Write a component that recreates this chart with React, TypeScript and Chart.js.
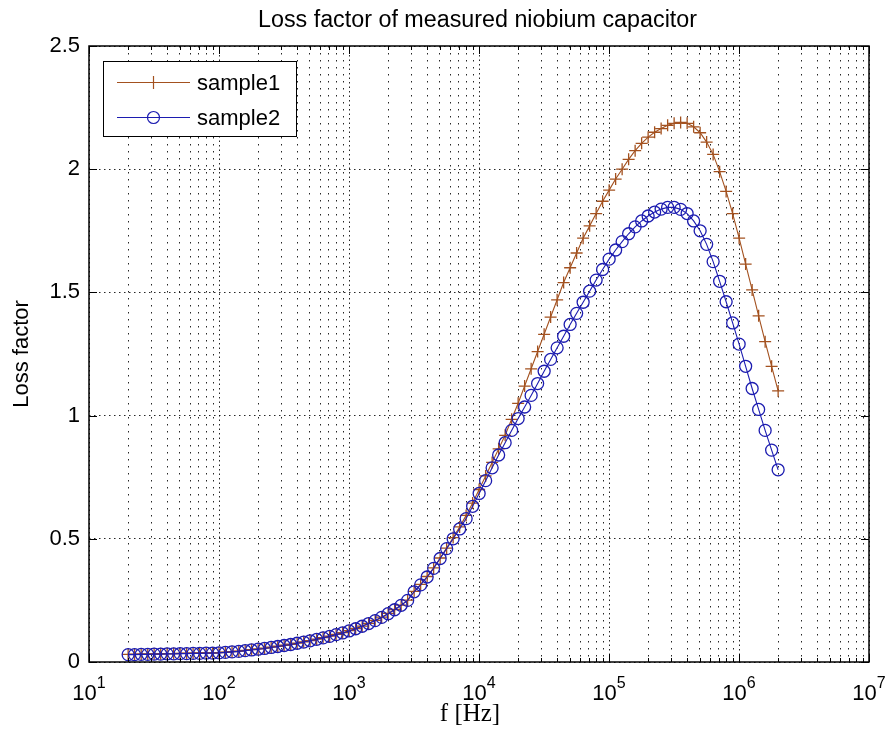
import React, { useEffect, useRef } from 'react';
import { Chart, registerables } from 'chart.js';

Chart.register(...registerables);

// ---------------- data ----------------
const TITLE = 'Loss factor of measured niobium capacitor';
const X_LABEL = 'f [Hz]';
const Y_LABEL = 'Loss factor';
const SERIES_NAMES = ['sample1', 'sample2'];

// measurement frequencies (Hz), 20 per decade from 20 Hz to 2 MHz
const FREQ_HZ = [
  20, 22.4, 25.2, 28.3, 31.7, 35.6, 39.9, 44.8, 50.2, 56.4,
  63.2, 71.0, 79.6, 89.3, 100, 112, 126, 142, 159, 178,
  200, 224, 252, 283, 317, 356, 399, 448, 502, 564,
  632, 710, 796, 893, 1002, 1125, 1262, 1416, 1589, 1783,
  2000, 2244, 2518, 2825, 3170, 3557, 3991, 4477, 5024, 5637,
  6325, 7096, 7962, 8934, 10024, 11247, 12619, 14159, 15887, 17825,
  20000, 22440, 25179, 28251, 31698, 35566, 39905, 44774, 50238, 56368,
  63246, 70963, 79621, 89337, 100237, 112468, 126191, 141589, 158866, 178250,
  200000, 224404, 251785, 282508, 316979, 355656, 399052, 447744, 502377, 563677,
  632456, 709627, 796214, 893367, 1002374, 1124683, 1261915, 1415892, 1588656, 1782502,
  2000000,
];

const SAMPLE1 = [
  0.031, 0.031, 0.032, 0.032, 0.033, 0.033, 0.034, 0.034, 0.035, 0.035,
  0.036, 0.036, 0.037, 0.037, 0.038, 0.040, 0.042, 0.044, 0.047, 0.050,
  0.053, 0.056, 0.060, 0.064, 0.068, 0.072, 0.077, 0.082, 0.087, 0.093,
  0.099, 0.105, 0.112, 0.119, 0.127, 0.136, 0.146, 0.157, 0.169, 0.182,
  0.197, 0.213, 0.231, 0.251, 0.287, 0.315, 0.347, 0.382, 0.422, 0.462,
  0.505, 0.548, 0.595, 0.645, 0.700, 0.755, 0.810, 0.865, 0.920, 0.985,
  1.050, 1.120, 1.190, 1.260, 1.330, 1.400, 1.470, 1.540, 1.600, 1.660,
  1.720, 1.770, 1.820, 1.870, 1.915, 1.960, 2.000, 2.040, 2.075, 2.105,
  2.130, 2.150, 2.165, 2.178, 2.186, 2.190, 2.186, 2.172, 2.148, 2.110,
  2.060, 1.990, 1.910, 1.820, 1.720, 1.615, 1.510, 1.405, 1.300, 1.200,
  1.100,
];

const SAMPLE2 = [
  0.030, 0.030, 0.031, 0.031, 0.032, 0.032, 0.033, 0.033, 0.034, 0.034,
  0.035, 0.035, 0.036, 0.036, 0.037, 0.039, 0.041, 0.043, 0.046, 0.049,
  0.052, 0.055, 0.059, 0.063, 0.067, 0.071, 0.076, 0.081, 0.086, 0.092,
  0.098, 0.104, 0.111, 0.118, 0.126, 0.135, 0.145, 0.156, 0.168, 0.181,
  0.196, 0.212, 0.230, 0.250, 0.285, 0.313, 0.345, 0.380, 0.420, 0.460,
  0.500, 0.540, 0.582, 0.632, 0.684, 0.736, 0.788, 0.840, 0.890, 0.940,
  0.988, 1.035, 1.082, 1.130, 1.180, 1.228, 1.275, 1.322, 1.370, 1.415,
  1.460, 1.505, 1.550, 1.593, 1.635, 1.672, 1.706, 1.738, 1.766, 1.790,
  1.810, 1.826, 1.838, 1.845, 1.845, 1.837, 1.820, 1.790, 1.750, 1.695,
  1.625, 1.545, 1.462, 1.376, 1.290, 1.200, 1.110, 1.025, 0.940, 0.860,
  0.780,
];

const X_MIN = 10;
const X_MAX = 1e7;
const X_DECADE_EXPONENTS = [1, 2, 3, 4, 5, 6, 7];
const X_MINOR_MULTIPLIERS = [1, 2, 3, 4, 5, 6, 7, 8, 9];
const Y_MIN = 0;
const Y_MAX = 2.5;
const Y_STEP = 0.5;

// ---------------- style ----------------
const BROWN = '#a3511f';
const BLUE = '#1c1cb0';
const SANS = '"Liberation Sans", Arial, Helvetica, sans-serif';
const SERIF = '"Liberation Serif", "Times New Roman", serif';

const X_TICK_VALUES: number[] = [];
X_DECADE_EXPONENTS.forEach((e) => {
  X_MINOR_MULTIPLIERS.forEach((m) => {
    const v = m * Math.pow(10, e - 1);
    if (v >= X_MIN && v <= X_MAX) X_TICK_VALUES.push(v);
  });
});
X_TICK_VALUES.push(X_MAX);

const isDecade = (v: number) => Math.abs(Math.log10(v) - Math.round(Math.log10(v))) < 1e-9;

const decorPlugin = {
  id: 'matlabDecor',
  afterDraw(chart: any) {
    const ctx: CanvasRenderingContext2D = chart.ctx;
    const { left, right, top, bottom } = chart.chartArea;
    const xs = chart.scales.x;
    const ys = chart.scales.y;
    ctx.save();

    // frame
    ctx.strokeStyle = '#000';
    ctx.lineWidth = 1.5;
    ctx.setLineDash([]);
    ctx.strokeRect(left, top, right - left, bottom - top);

    // inward ticks
    ctx.lineWidth = 1;
    ctx.beginPath();
    X_TICK_VALUES.forEach((v) => {
      const px = Math.round(xs.getPixelForValue(v)) + 0.5;
      const len = isDecade(v) ? 8 : 4;
      ctx.moveTo(px, bottom);
      ctx.lineTo(px, bottom - len);
      ctx.moveTo(px, top);
      ctx.lineTo(px, top + len);
    });
    for (let v = Y_MIN; v <= Y_MAX + 1e-9; v += Y_STEP) {
      const py = Math.round(ys.getPixelForValue(v)) + 0.5;
      ctx.moveTo(left, py);
      ctx.lineTo(left + 8, py);
      ctx.moveTo(right, py);
      ctx.lineTo(right - 8, py);
    }
    ctx.stroke();

    // x tick labels 10^n
    ctx.fillStyle = '#000';
    ctx.textAlign = 'left';
    ctx.textBaseline = 'alphabetic';
    X_DECADE_EXPONENTS.forEach((e) => {
      const px = xs.getPixelForValue(Math.pow(10, e));
      ctx.font = `22px ${SANS}`;
      const wBase = ctx.measureText('10').width;
      ctx.font = `16px ${SANS}`;
      const wExp = ctx.measureText(String(e)).width;
      const start = px - (wBase + wExp) / 2;
      ctx.font = `22px ${SANS}`;
      ctx.fillText('10', start, 700);
      ctx.font = `16px ${SANS}`;
      ctx.fillText(String(e), start + wBase, 688);
    });

    // title
    ctx.textAlign = 'center';
    ctx.font = `23.3px ${SANS}`;
    ctx.fillText(TITLE, 477.5, 27);

    // x label
    ctx.font = `25px ${SERIF}`;
    ctx.fillText(X_LABEL, 470, 721);

    // legend
    const lx = 103, ly = 61, lw = 193, lh = 75;
    ctx.fillStyle = '#fff';
    ctx.fillRect(lx, ly, lw, lh);
    ctx.strokeStyle = '#000';
    ctx.lineWidth = 1;
    ctx.strokeRect(lx + 0.5, ly + 0.5, lw, lh);
    const rows = [
      { y: 82, color: BROWN, style: 'cross', name: SERIES_NAMES[0] },
      { y: 117, color: BLUE, style: 'circle', name: SERIES_NAMES[1] },
    ];
    rows.forEach((r) => {
      ctx.strokeStyle = r.color;
      ctx.lineWidth = 1.2;
      ctx.beginPath();
      ctx.moveTo(117, r.y + 0.5);
      ctx.lineTo(190, r.y + 0.5);
      ctx.stroke();
      ctx.beginPath();
      if (r.style === 'cross') {
        ctx.moveTo(153.5, r.y - 6);
        ctx.lineTo(153.5, r.y + 7);
      } else {
        ctx.arc(153.5, r.y + 0.5, 6, 0, Math.PI * 2);
      }
      ctx.stroke();
      ctx.fillStyle = '#000';
      ctx.textAlign = 'left';
      ctx.font = `22px ${SANS}`;
      ctx.fillText(r.name, 197, r.y + 8);
    });

    ctx.restore();
  },
};

export default function App() {
  const canvasRef = useRef<HTMLCanvasElement | null>(null);

  useEffect(() => {
    const canvas = canvasRef.current;
    if (!canvas) return;
    const chart = new Chart(canvas, {
      type: 'line',
      data: {
        datasets: [
          {
            label: SERIES_NAMES[0],
            data: FREQ_HZ.map((f, i) => ({ x: f, y: SAMPLE1[i] })),
            borderColor: BROWN,
            borderWidth: 1.1,
            pointStyle: 'cross',
            pointRadius: 6,
            pointBorderWidth: 1.3,
            pointBorderColor: BROWN,
            pointBackgroundColor: 'transparent',
            fill: false,
            tension: 0,
            order: 1,
          },
          {
            label: SERIES_NAMES[1],
            data: FREQ_HZ.map((f, i) => ({ x: f, y: SAMPLE2[i] })),
            borderColor: BLUE,
            borderWidth: 1.1,
            pointStyle: 'circle',
            pointRadius: 6,
            pointBorderWidth: 1.3,
            pointBorderColor: BLUE,
            pointBackgroundColor: 'transparent',
            fill: false,
            tension: 0,
            order: 0,
          },
        ],
      },
      options: {
        animation: false,
        responsive: false,
        maintainAspectRatio: false,
        devicePixelRatio: 1,
        events: [],
        layout: { padding: { left: 0, top: 46, right: 18, bottom: 0 } },
        plugins: {
          legend: { display: false },
          tooltip: { enabled: false },
          title: { display: false },
        },
        scales: {
          x: {
            type: 'logarithmic',
            min: X_MIN,
            max: X_MAX,
            ticks: { display: false },
            grid: { color: 'rgba(0,0,0,0.85)', lineWidth: 1, drawTicks: false },
            border: {
              display: false,
              dash: (c: any) => (c.tick && c.tick.major ? [1.5, 3] : [1.5, 5.5]),
            },
            afterBuildTicks: (scale: any) => {
              scale.ticks = X_TICK_VALUES.map((v) => ({ value: v, major: isDecade(v) }));
            },
            afterFit: (scale: any) => {
              scale.height = 67;
            },
          },
          y: {
            type: 'linear',
            min: Y_MIN,
            max: Y_MAX,
            ticks: {
              stepSize: Y_STEP,
              color: '#000',
              font: { family: SANS, size: 22 },
              padding: 9,
              callback: (value: any) => String(Number(value)),
            },
            grid: { color: 'rgba(0,0,0,0.85)', lineWidth: 1, drawTicks: false },
            border: { display: false, dash: [1.5, 3.5] },
            title: {
              display: true,
              text: Y_LABEL,
              color: '#000',
              font: { family: SANS, size: 22 },
              padding: { top: 9, bottom: 0 },
            },
            afterFit: (scale: any) => {
              scale.width = 89;
            },
          },
        },
      },
      plugins: [decorPlugin],
    } as any);
    return () => chart.destroy();
  }, []);

  return (
    <div style={{ position: 'absolute', left: 0, top: 0, width: 887, height: 729, background: '#fff' }}>
      <canvas ref={canvasRef} width={887} height={729} style={{ display: 'block' }} />
    </div>
  );
}
